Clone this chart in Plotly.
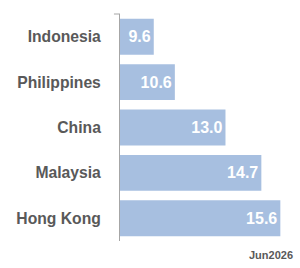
import plotly.graph_objects as go

categories = ["Indonesia", "Philippines", "China", "Malaysia", "Hong Kong"]
values = [9.6, 10.6, 13.0, 14.7, 15.6]
labels = ["9.6", "10.6", "13.0", "14.7", "15.6"]
footnote = "Jun2026"

fig = go.Figure(go.Bar(
    x=values, y=categories, orientation="h",
    marker=dict(color="#a7bfe0", line=dict(width=0)),
    text=labels, textposition="inside", insidetextanchor="end",
    textfont=dict(family="Liberation Sans, Arial", size=16, color="white", weight="bold"),
    cliponaxis=False,
))

fig.update_layout(
    width=300, height=268,
    margin=dict(l=120, r=7, t=14, b=27),
    paper_bgcolor="white", plot_bgcolor="white",
    showlegend=False, bargap=0.21,
    uniformtext=dict(mode=False),
    xaxis=dict(range=[8.0, 16.2], visible=False, fixedrange=True),
    yaxis=dict(
        autorange="reversed", showline=True, linecolor="#a6a6a6", linewidth=1,
        ticks="", ticklabelstandoff=15,
        tickfont=dict(family="Liberation Sans, Arial", size=15.7, color="#595959", weight="bold"),
        showgrid=False, zeroline=False,
    ),
)

fig.add_shape(type="line", xref="paper", yref="paper", x0=-0.035, x1=0, y0=1, y1=1,
              line=dict(color="#a6a6a6", width=1))

fig.add_annotation(text=footnote, xref="paper", yref="paper", x=1, y=-0.025,
                   xanchor="right", yanchor="top", showarrow=False, xshift=2,
                   font=dict(family="Liberation Sans, Arial", size=11, color="#595959", weight="bold"))

fig.write_html("out.html")
